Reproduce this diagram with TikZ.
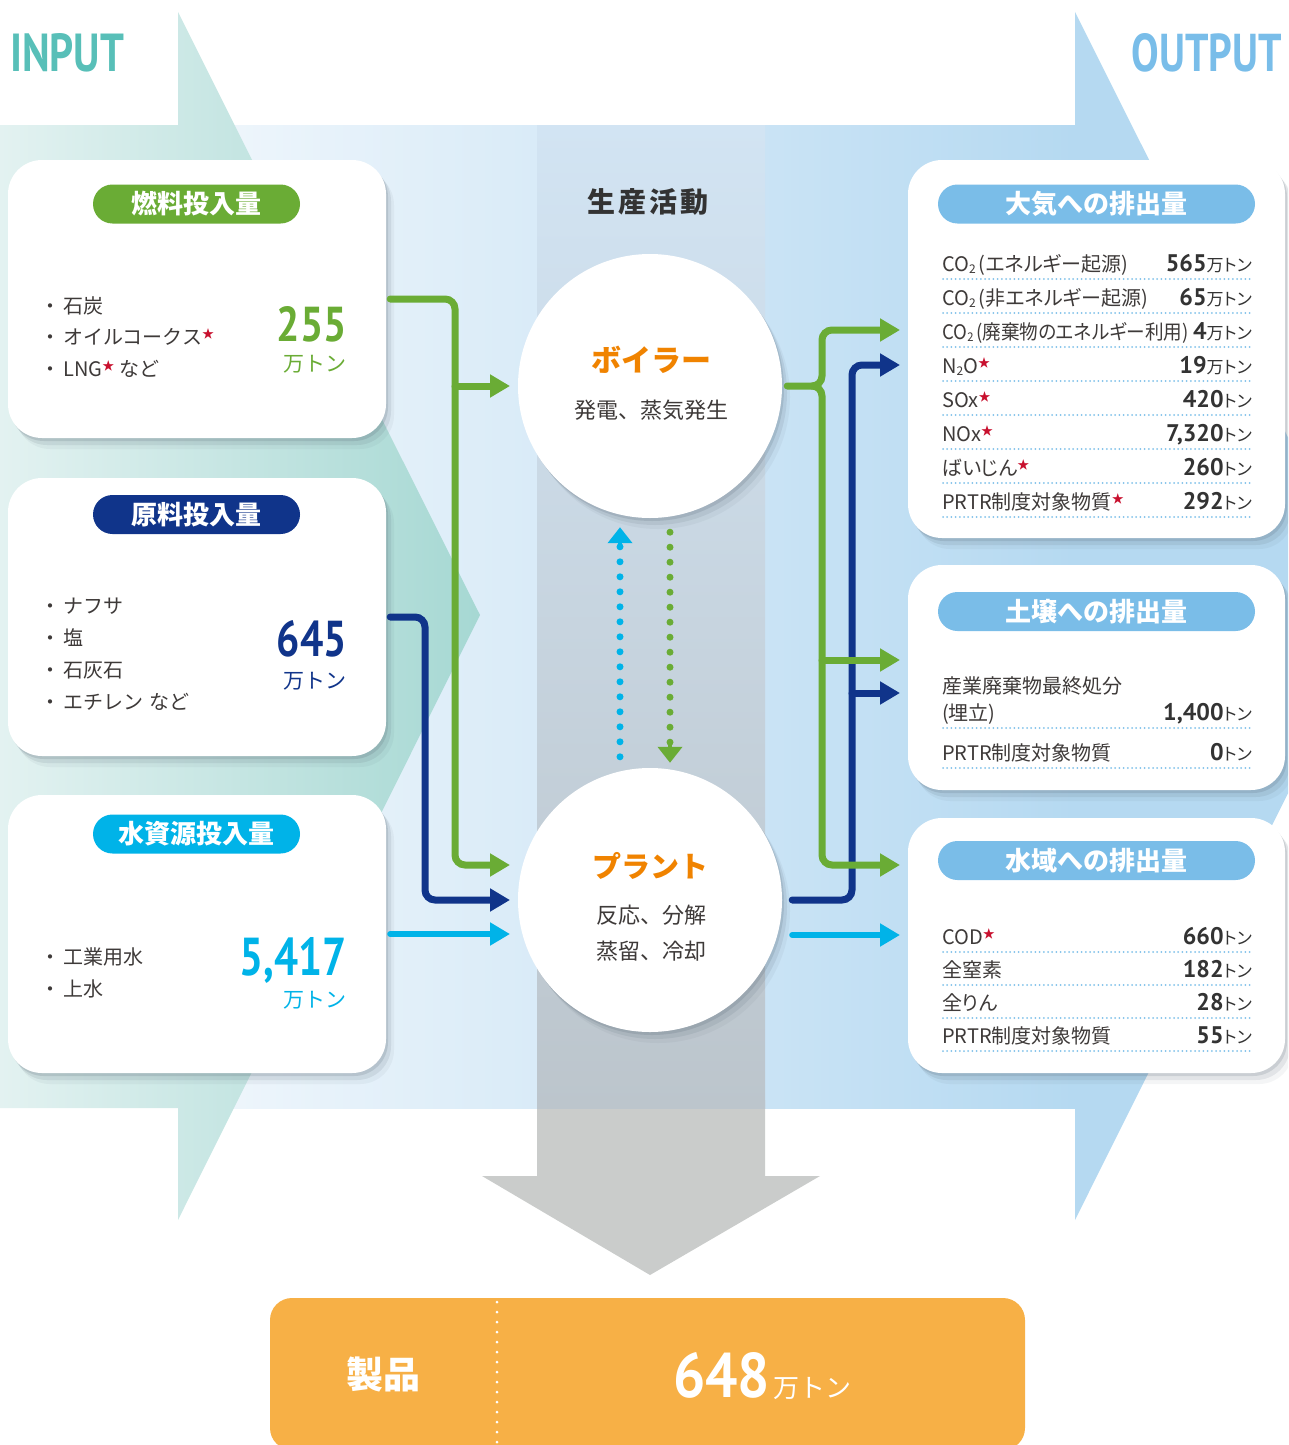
\documentclass[tikz,border=0pt]{standalone}
\usepackage{fontspec}
\usepackage{graphicx}
\setmainfont{Noto Sans CJK JP}
\newfontfamily\jpp{Noto Sans CJK JP}[RawFeature=+palt]
\newfontfamily\numf{PT Sans}
\usetikzlibrary{arrows.meta,shadows}
\definecolor{cGreen}{HTML}{6AAC35}
\definecolor{cNavy}{HTML}{10348A}
\definecolor{cCyan}{HTML}{00B3E8}
\definecolor{cPill}{HTML}{7ABDE8}
\definecolor{cOrange}{HTML}{F08300}
\definecolor{cText}{HTML}{3E3A39}
\definecolor{cNum}{HTML}{333333}
\definecolor{cStar}{HTML}{C8102E}
\definecolor{cProd}{HTML}{F7B046}
\definecolor{cInput}{HTML}{58BFB8}
\definecolor{cOutput}{HTML}{79BDE9}
\definecolor{cDot}{HTML}{7FC1EA}
\definecolor{cTealL}{HTML}{E3F2F1}
\definecolor{cTealD}{HTML}{A6D8D3}
\definecolor{cBlueL}{HTML}{F1F7FC}
\definecolor{cBlueD}{HTML}{B5D9F1}
\definecolor{cGrayCol}{HTML}{CACCCB}
\definecolor{cColTop}{HTML}{D2E4F3}
\definecolor{cColBot}{HTML}{BCC5CC}
\definecolor{cShadow}{HTML}{4A5A68}
\newcommand{\myfs}[1]{\fontsize{#1}{#1}\selectfont}
\newcommand{\rstar}{\raisebox{6pt}{\textcolor{cStar}{\myfs{12}★}}}
\newcommand{\subtwo}{\raisebox{-2pt}{\myfs{12}2}\hspace{3pt}}
\newcommand{\subtwon}{\raisebox{-2pt}{\myfs{12}2}}
\tikzset{
  softshadow/.style={
    drop shadow={shadow xshift=2pt,shadow yshift=-3pt,opacity=.16,fill=cShadow},
    drop shadow={shadow xshift=5pt,shadow yshift=-7pt,opacity=.11,fill=cShadow},
    drop shadow={shadow xshift=8pt,shadow yshift=-11pt,opacity=.06,fill=cShadow}},
  wbox/.style={fill=white, rounded corners=34pt, inner sep=0pt, softshadow},
  wcirc/.style={circle, fill=white, minimum size=264pt, inner sep=0pt, softshadow},
  pill/.style={fill=#1, rounded corners=19.5pt, minimum width=207pt, minimum height=39pt, inner sep=0pt, text=white, font=\bfseries\myfs{26}},
  rpill/.style={fill=cPill, rounded corners=19.5pt, minimum width=317pt, minimum height=39pt, inner sep=0pt, text=white, font=\bfseries\myfs{26}},
  gline/.style={draw=cGreen, line width=7pt, rounded corners=10pt, line cap=round},
  nline/.style={draw=cNavy, line width=7pt, rounded corners=10pt, line cap=round},
  cline/.style={draw=cCyan, line width=6pt, line cap=round},
  arrowtip/.style={-{Triangle[length=20pt,width=22pt]}},
  dotline/.style={line width=7pt, line cap=round, dash pattern=on 0pt off 15pt},
  sepline/.style={draw=cDot, line width=2pt, line cap=round, dash pattern=on 0pt off 4.2pt},
  listtxt/.style={inner sep=0pt, text=cText, font=\myfs{20}, anchor=base west},
  lab/.style={inner sep=0pt, text=cText, font=\jpp\myfs{20}, anchor=base west},
  val/.style={inner sep=0pt, text=cNum, anchor=base east},
  txt/.style={inner sep=0pt}
}
\newcommand{\trow}[5]{%
  \node[lab] (#1l) at (942,#2) {#3};
  \node[val] (#1v) at (1252,#2) {{\numf\bfseries\myfs{24}#4}{\jpp\myfs{17}#5}};
  \draw[sepline] (943,#2+8) -- (1253,#2+8);
}
\begin{document}
\begin{tikzpicture}[x=1pt,y=-1pt]
\useasboundingbox (0,0) rectangle (1288,1445);
\clip (0,0) rectangle (1288,1445);
% background band and arrows
\shade[left color=cBlueL, right color=cBlueD] (178,125) rectangle (1075,1108);
\fill[cBlueD] (1075,125) -- (1075,12) -- (1377,615) -- (1075,1220) -- (1075,1108) -- cycle;
\shade[left color=cTealL, right color=cTealD] (0,125) -- (178,125) -- (178,12) -- (480,615) -- (178,1220) -- (178,1108) -- (0,1108) -- cycle;
% central column and down arrow
\fill[cGrayCol] (537,1100) -- (765,1100) -- (765,1176) -- (820,1176) -- (650,1275) -- (482,1176) -- (537,1176) -- cycle;
\shade[top color=cColTop, bottom color=cColBot] (537,125) rectangle (765,1108);
% titles
\node[txt, anchor=north west, text=cInput] (inputt) at (10,33) {\resizebox{114pt}{38pt}{\numf\bfseries INPUT}};
\node[txt, anchor=north east, text=cOutput] (outputt) at (1282,33) {\resizebox{150pt}{38pt}{\numf\bfseries OUTPUT}};
% boxes
\node[wbox, minimum width=378pt, minimum height=278pt] (fuel) at (197,299) {};
\node[wbox, minimum width=378pt, minimum height=278pt] (raw) at (197,617) {};
\node[wbox, minimum width=378pt, minimum height=278pt] (water) at (197,934) {};
\node[wbox, minimum width=377pt, minimum height=378pt] (air) at (1096.5,349) {};
\node[wbox, minimum width=377pt, minimum height=225pt] (soil) at (1096.5,677.5) {};
\node[wbox, minimum width=377pt, minimum height=255pt] (wout) at (1096.5,945.5) {};
% circles
\node[wcirc] (boiler) at (650,386) {};
\node[wcirc] (plant) at (650,900) {};
% product box
\node[fill=cProd, rounded corners=22pt, minimum width=755pt, minimum height=152pt, inner sep=0pt] (product) at (647.5,1374) {};
\draw[white, line width=3pt, line cap=round, dash pattern=on 0pt off 10pt] (497,1302) -- (497,1445);
% coordinates
\coordinate (b1) at (510,386);
\coordinate (p1) at (510,865);
\coordinate (p2) at (510,900);
\coordinate (p3) at (510,934);
\coordinate (a1) at (900,330);
\coordinate (a2) at (900,365);
\coordinate (a3) at (900,660);
\coordinate (a4) at (900,693);
\coordinate (a5) at (900,865);
\coordinate (a6) at (900,935);
% left connectors
\draw[gline, arrowtip] ([xshift=4pt]fuel.east) -- (455,299) -- (455,865) -- (p1);
\draw[gline, arrowtip] (455,386) -- (b1);
\draw[nline, arrowtip] ([xshift=4pt]raw.east) -- (425,617) -- (425,900) -- (p2);
\draw[cline, arrowtip] ([xshift=4pt]water.east) -- (p3);
% right connectors
\draw[nline, arrowtip] ([xshift=10pt]plant.east) -- (852,900) -- (852,365) -- (a2);
\draw[nline, arrowtip] (852,693) -- (a4);
\draw[gline, arrowtip] ([xshift=5pt]boiler.east) -- (822,386) -- (822,330) -- (a1);
\draw[gline, arrowtip] (812,386) -- (822,386) -- (822,865) -- (a5);
\draw[gline, arrowtip] (822,660) -- (a3);
\draw[cline, arrowtip] ([xshift=10pt,yshift=-35pt]plant.east) -- (a6);
% dotted links between boiler and plant
\draw[cCyan, dotline] ([xshift=-30pt,yshift=11pt]plant.north) -- ([xshift=-30pt,yshift=-28pt]boiler.south);
\draw[cCyan, line width=4pt, -{Triangle[length=16pt,width=24pt]}] ([xshift=-30pt,yshift=-27pt]boiler.south) -- ([xshift=-30pt,yshift=-9pt]boiler.south);
\draw[cGreen, dotline] ([xshift=20pt,yshift=-14pt]boiler.south) -- ([xshift=20pt,yshift=24pt]plant.north);
\draw[cGreen, line width=4pt, -{Triangle[length=16pt,width=24pt]}] ([xshift=20pt,yshift=23pt]plant.north) -- ([xshift=20pt,yshift=5pt]plant.north);
% center texts
\node[txt, text=cNum, font=\bfseries\myfs{28}\addfontfeature{LetterSpace=10}] (prod) at (648,202) {生産活動};
\node[txt, text=cOrange, font=\bfseries\myfs{30}] (boilert) at (651,360) {ボイラー};
\node[txt, text=cText, font=\myfs{22}] (boilerd) at (651,410) {発電、蒸気発生};
\node[txt, text=cOrange, font=\bfseries\myfs{29}] (plantt) at (650,866) {プラント};
\node[txt, text=cText, font=\myfs{22}] (plantd1) at (651,915) {反応、分解};
\node[txt, text=cText, font=\myfs{22}] (plantd2) at (651,951) {蒸留、冷却};
% input pills
\node[pill=cGreen] (fuelh) at (196.5,204) {燃料投入量};
\node[pill=cNavy] (rawh) at (196.5,514.5) {原料投入量};
\node[pill=cCyan] (waterh) at (196.5,834) {水資源投入量};
% fuel list
\node[listtxt] (f1) at (40,313) {・\hspace{3pt}石炭};
\node[listtxt] (f2) at (40,344) {・\hspace{3pt}オイルコークス\rstar};
\node[listtxt] (f3) at (40,376) {・\hspace{3pt}LNG\rstar\hspace{5pt}など};
\node[txt, anchor=north east, text=cGreen] (fuelv) at (347,306) {\resizebox{70pt}{35pt}{\numf\bfseries 255}};
\node[txt, anchor=base east, text=cGreen, font=\myfs{21}] (fuelu) at (347,371) {万トン};
% raw list
\node[listtxt] (r1) at (40,613) {・\hspace{3pt}ナフサ};
\node[listtxt] (r2) at (40,645) {・\hspace{3pt}塩};
\node[listtxt] (r3) at (40,677) {・\hspace{3pt}石灰石};
\node[listtxt] (r4) at (40,709) {・\hspace{3pt}エチレン\hspace{6pt}など};
\node[txt, anchor=north east, text=cNavy] (rawv) at (347,620) {\resizebox{70pt}{36pt}{\numf\bfseries 645}};
\node[txt, anchor=base east, text=cNavy, font=\myfs{21}] (rawu) at (347,688) {万トン};
% water list
\node[listtxt] (w1) at (40,964) {・\hspace{3pt}工業用水};
\node[listtxt] (w2) at (40,996) {・\hspace{3pt}上水};
\node[txt, anchor=north east, text=cCyan] (waterv) at (347,937) {\resizebox{107pt}{38pt}{\numf\bfseries 5,417}};
\node[txt, anchor=base east, text=cCyan, font=\myfs{21}] (wateru) at (347,1007) {万トン};
% output pills
\node[rpill] (airh) at (1096.5,204) {大気への排出量};
\node[rpill] (soilh) at (1096.5,611.5) {土壌への排出量};
\node[rpill] (wouth) at (1096.5,860.5) {水域への排出量};
% air rows
\trow{ar1}{271}{CO\subtwo(エネルギー起源)}{565}{万トン}
\trow{ar2}{305}{CO\subtwo(非エネルギー起源)}{65}{万トン}
\trow{ar3}{339}{\scalebox{0.93}[1]{CO\subtwo(廃棄物のエネルギー利用)}}{4}{万トン}
\trow{ar4}{373}{N\subtwon O\rstar}{19}{万トン}
\trow{ar5}{407}{SOx\rstar}{420}{トン}
\trow{ar6}{441}{NOx\rstar}{7,320}{トン}
\trow{ar7}{475}{ばいじん\rstar}{260}{トン}
\trow{ar8}{509}{PRTR制度対象物質\rstar}{292}{トン}
% soil rows
\node[lab] (sl0) at (942,693) {産業廃棄物最終処分};
\trow{sr1}{720}{(埋立)}{1,400}{トン}
\trow{sr2}{760}{PRTR制度対象物質}{0}{トン}
% water rows
\trow{wr1}{944}{COD\rstar}{660}{トン}
\trow{wr2}{977}{全窒素}{182}{トン}
\trow{wr3}{1010}{全りん}{28}{トン}
\trow{wr4}{1043}{PRTR制度対象物質}{55}{トン}
% product texts
\node[txt, text=white, font=\bfseries\myfs{37}] (prodl) at (383,1374) {製品};
\node[txt, anchor=north west, text=white] (prodv) at (673,1352) {\resizebox{97pt}{45pt}{\numf\bfseries 648}};
\node[txt, anchor=base west, text=white, font=\myfs{26}] (produ) at (773,1397) {万トン};
\end{tikzpicture}
\end{document}
